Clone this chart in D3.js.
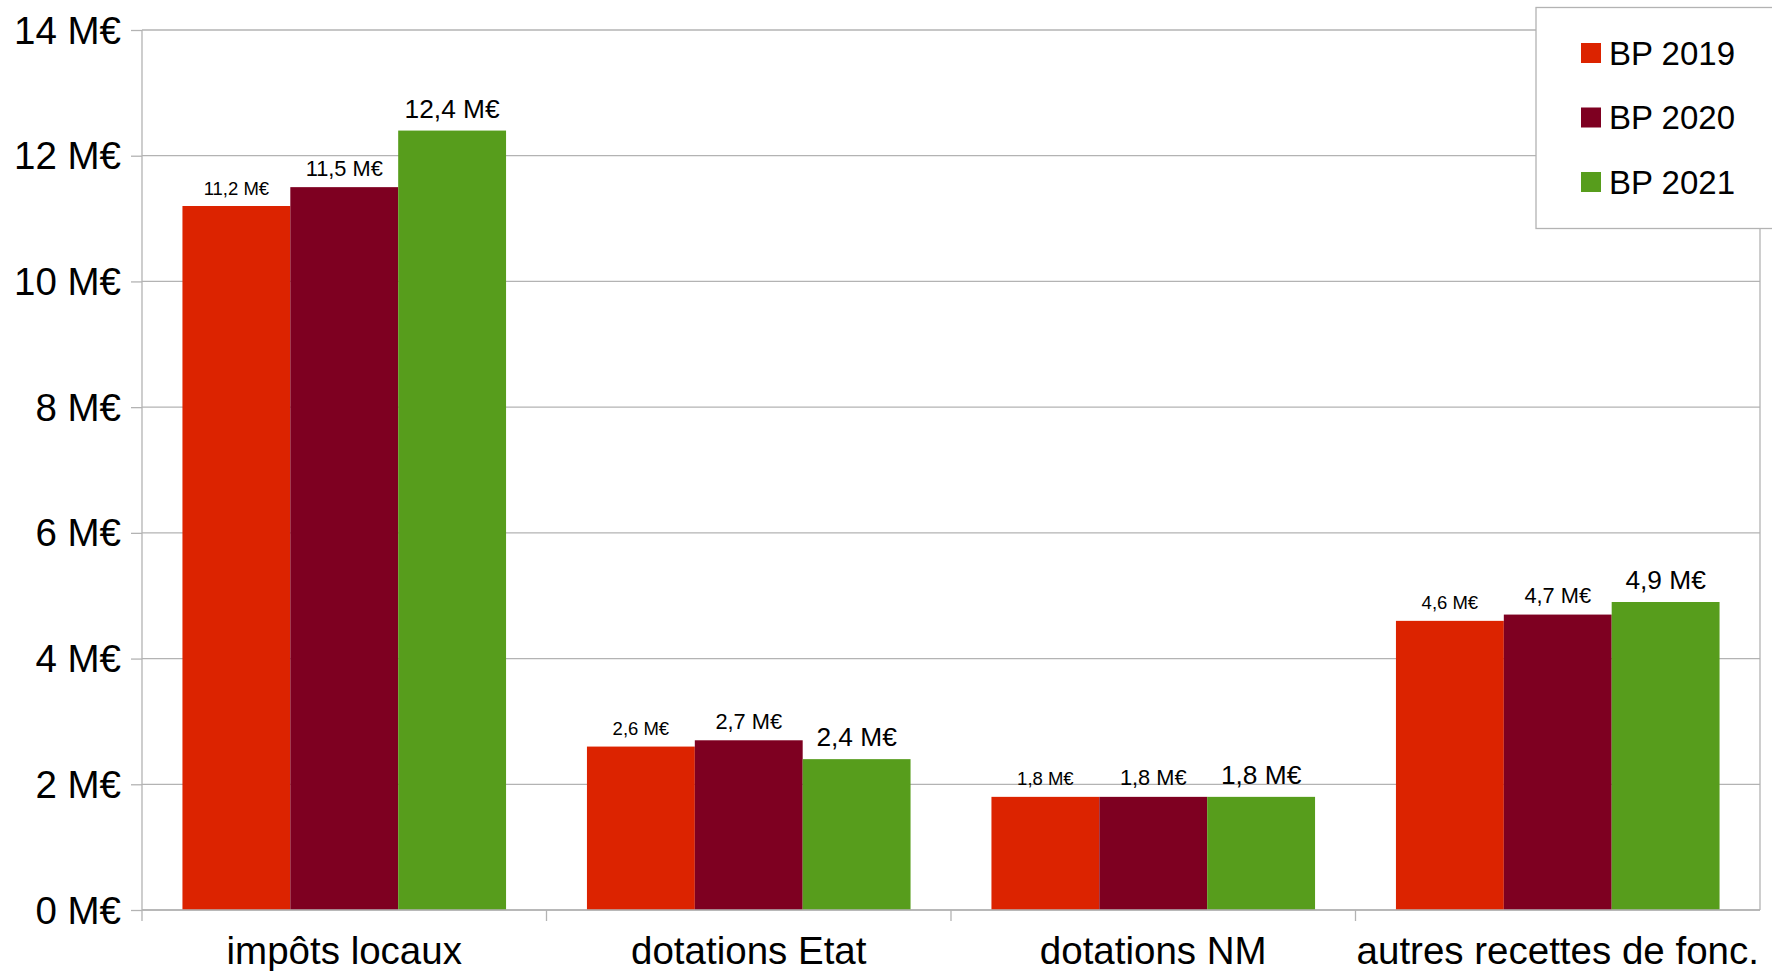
<!DOCTYPE html>
<html>
<head>
<meta charset="utf-8">
<script src="https://cdn.jsdelivr.net/npm/d3@7"></script>
<style>
  html, body { margin: 0; padding: 0; background: #fff; }
  svg { display: block; font-family: "Liberation Sans", Arial, sans-serif; }
</style>
</head>
<body>
<svg id="chart" width="1772" height="971"></svg>
<script>
const categories = ["impôts locaux", "dotations Etat", "dotations NM", "autres recettes de fonc."];
const seriesNames = ["BP 2019", "BP 2020", "BP 2021"];
const bp2019 = [11.2, 2.6, 1.8, 4.6];
const bp2020 = [11.5, 2.7, 1.8, 4.7];
const bp2021 = [12.4, 2.4, 1.8, 4.9];
const yTicks = [0, 2, 4, 6, 8, 10, 12, 14];
const colors = ["#dc2300", "#7e0021", "#579d1c"];
const labelSizes = [18.5, 21.8, 26.3];

(function () {
const seriesValues = [bp2019, bp2020, bp2021];
const fmt = v => d3.format(".1f")(v).replace(".", ",") + " M€";

const svg = d3.select("#chart");
const pLeft = 142, pRight = 1760, pTop = 30, pBottom = 910;
const grey = "#b3b3b3";

const x0 = d3.scaleBand().domain(categories).range([pLeft, pRight]).padding(0);
const bw = x0.bandwidth();
const x1 = d3.scaleBand().domain(seriesNames).range([bw * 0.1, bw * 0.9]).padding(0);
const y = d3.scaleLinear().domain([0, 14]).range([pBottom, pTop]);

// gridlines
svg.append("g").selectAll("line").data(yTicks).join("line")
  .attr("x1", pLeft).attr("x2", pRight)
  .attr("y1", d => y(d)).attr("y2", d => y(d))
  .attr("stroke", grey).attr("stroke-width", 1.3);

// right border
svg.append("line").attr("x1", pRight).attr("x2", pRight).attr("y1", pTop).attr("y2", pBottom)
  .attr("stroke", grey).attr("stroke-width", 1.3);

// bars
const groups = svg.append("g").selectAll("g").data(categories).join("g")
  .attr("transform", d => `translate(${x0(d)},0)`);

seriesNames.forEach((s, si) => {
  groups.append("rect")
    .attr("x", x1(s))
    .attr("width", x1.bandwidth())
    .attr("y", (d, i) => y(seriesValues[si][i]))
    .attr("height", (d, i) => y(0) - y(seriesValues[si][i]))
    .attr("fill", colors[si]);
  groups.append("text")
    .attr("x", x1(s) + x1.bandwidth() / 2)
    .attr("y", (d, i) => y(seriesValues[si][i]) - (si === 2 ? 13 : 11.5))
    .attr("text-anchor", "middle")
    .attr("font-size", labelSizes[si])
    .attr("fill", "#000")
    .text((d, i) => fmt(seriesValues[si][i]));
});

// y axis
const yAxis = svg.append("g").attr("transform", `translate(${pLeft},0)`)
  .call(d3.axisLeft(y).tickValues(yTicks).tickSize(11).tickPadding(10).tickFormat(d => d + " M€"));
yAxis.select(".domain").attr("stroke", grey).attr("stroke-width", 1.3)
  .attr("d", `M0,${pTop}V${pBottom + 11}`);
yAxis.selectAll(".tick line").attr("stroke", grey).attr("stroke-width", 1.3);
yAxis.selectAll(".tick text").attr("font-size", 38.5).attr("font-family", "Liberation Sans").attr("fill", "#000")
  .attr("dy", "0.34em");

// x axis
const xAxis = svg.append("g").attr("transform", `translate(0,${pBottom})`)
  .call(d3.axisBottom(x0).tickSize(0).tickPadding(0).tickFormat(""));
xAxis.select(".domain").attr("stroke", grey).attr("stroke-width", 1.3).attr("d", `M${pLeft},0H${pRight}`);
xAxis.selectAll(".tick line").remove();
xAxis.append("g").selectAll("line").data(categories.slice(1)).join("line")
  .attr("x1", d => x0(d)).attr("x2", d => x0(d)).attr("y1", 0).attr("y2", 11)
  .attr("stroke", grey).attr("stroke-width", 1.3);
xAxis.append("g").selectAll("text").data(categories).join("text")
  .attr("x", d => x0(d) + bw / 2).attr("y", 54)
  .attr("text-anchor", "middle").attr("font-size", 38.5).attr("fill", "#000")
  .attr("font-family", "Liberation Sans")
  .text(d => d);

// legend
const lg = svg.append("g");
lg.append("rect").attr("x", 1536).attr("y", 7.5).attr("width", 300).attr("height", 221)
  .attr("fill", "#fff").attr("stroke", grey).attr("stroke-width", 1.3);
const ly = d3.scalePoint().domain(seriesNames).range([53, 182]);
seriesNames.forEach((s, i) => {
  lg.append("rect").attr("x", 1581).attr("y", ly(s) - 10).attr("width", 20).attr("height", 20)
    .attr("fill", colors[i]);
  lg.append("text").attr("x", 1609).attr("y", ly(s) + 11.5).attr("font-size", 33).attr("fill", "#000")
    .text(s);
});
})();
</script>
</body>
</html>
